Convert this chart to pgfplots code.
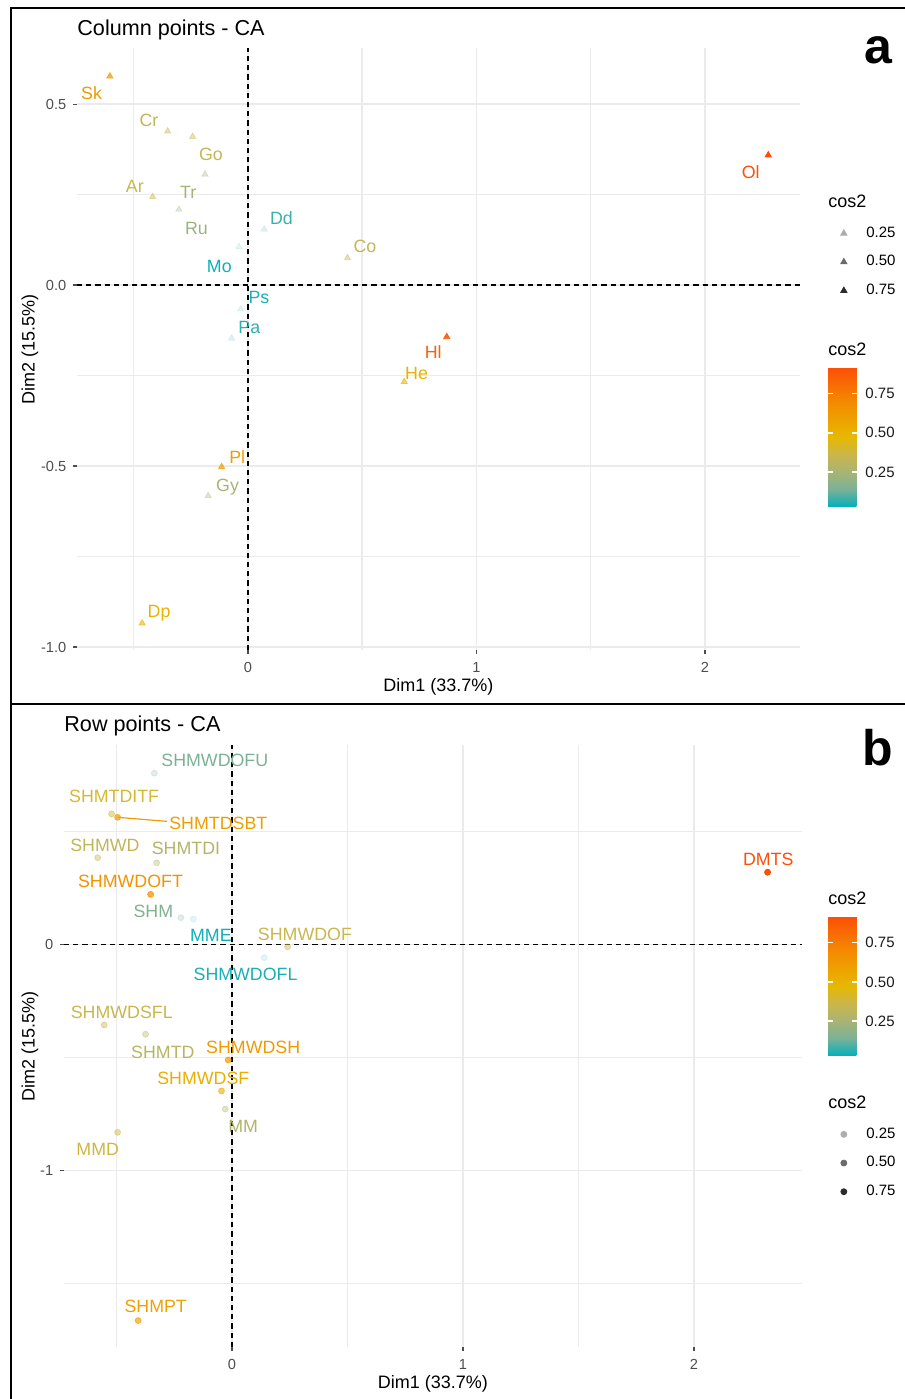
\documentclass[border=0pt]{standalone}
\usepackage{fontspec}
\setmainfont{Liberation Sans}
\usepackage{pgfplots}
\pgfplotsset{compat=1.18}
\usepackage{pgfplotstable}

\definecolor{gridc}{RGB}{235,235,235}
\definecolor{tickc}{RGB}{77,77,77}
\definecolor{segc}{RGB}{238,158,1}

\newcommand{\ptfont}{\fontsize{8.9}{10}\selectfont}
\newcommand{\tkfont}{\fontsize{7.3}{8.5}\selectfont}
\newcommand{\lbfont}{\fontsize{9}{10.5}\selectfont}
\newcommand{\ttlfont}{\fontsize{10.8}{12.5}\selectfont}
\newcommand{\lgfont}{\fontsize{7.5}{9}\selectfont}

% column points: position, cos2, label position
\pgfplotstableread{
name x y c lx ly
Sk -0.604 0.577 0.62 -0.684 0.530
Cr -0.351 0.425 0.33 -0.433 0.456
Go -0.242 0.410 0.34 -0.162 0.361
Tr -0.188 0.306 0.24 -0.261 0.258
Ar -0.417 0.244 0.36 -0.495 0.274
Ru -0.302 0.209 0.22 -0.225 0.158
Mo -0.039 0.106 0.04 -0.125 0.053
Dd 0.071 0.154 0.08 0.147 0.186
Co 0.436 0.075 0.34 0.512 0.108
Ps -0.031 -0.066 0.05 0.048 -0.032
Pa -0.071 -0.147 0.07 0.006 -0.115
Hl 0.870 -0.143 0.85 0.811 -0.184
He 0.684 -0.267 0.50 0.738 -0.244
Pl -0.115 -0.502 0.60 -0.047 -0.474
Gy -0.174 -0.582 0.25 -0.089 -0.552
Dp -0.463 -0.934 0.50 -0.389 -0.900
Ol 2.277 0.359 0.92 2.200 0.311
}\colpts

% row points
\pgfplotstableread{
name x y c lx ly
SHMWDOFU -0.336 0.757 0.14 -0.074 0.816
SHMTDITF -0.521 0.577 0.40 -0.510 0.656
SHMTDSBT -0.495 0.562 0.60 -0.059 0.538
SHMWD -0.581 0.383 0.33 -0.550 0.439
SHMTDI -0.326 0.361 0.28 -0.199 0.425
SHMWDOFT -0.352 0.221 0.66 -0.439 0.280
SHM -0.221 0.118 0.15 -0.340 0.149
MME -0.167 0.112 0.04 -0.091 0.041
SHMWDOF 0.241 -0.011 0.36 0.316 0.046
SHMWDOFL 0.140 -0.059 0.05 0.059 -0.133
SHMWDSFL -0.553 -0.357 0.36 -0.477 -0.301
SHMTD -0.374 -0.398 0.30 -0.299 -0.477
SHMWDSH -0.016 -0.512 0.62 0.092 -0.456
SHMWDSF -0.045 -0.649 0.52 -0.124 -0.590
MM -0.029 -0.729 0.28 0.049 -0.803
MMD -0.495 -0.832 0.38 -0.581 -0.906
SHMPT -0.406 -1.665 0.58 -0.330 -1.599
DMTS 2.319 0.319 0.92 2.322 0.376
}\rowpts

\pgfplotsset{
  colormap={cagrad}{rgb255(0)=(0,175,187) rgb255(1)=(122,177,152) rgb255(2)=(168,180,116)
    rgb255(3)=(202,182,76) rgb255(4)=(231,184,0) rgb255(6)=(244,138,1) rgb255(8)=(252,78,7)},
  capanel/.style={
    scale only axis, anchor=south west,
    colormap name=cagrad,
    point meta min=0.027, point meta max=0.92,
    axis line style={draw=none},
    tick align=outside,
    xtick pos=left, ytick pos=left,
    major tick length=2pt, minor tick length=0pt,
    major tick style={tickc, line width=0.6pt},
    grid=both,
    major grid style={gridc, line width=0.7pt},
    minor grid style={gridc, line width=0.7pt},
    ticklabel style={font=\tkfont, text=tickc},
    xticklabel style={anchor=north, inner sep=0pt, yshift=-3.9pt},
    yticklabel style={anchor=east, inner sep=0pt, xshift=-3.2pt},
    every axis x label/.style={at={(axis description cs:0.5,0)}, anchor=center, yshift=-18.5pt, font=\lbfont},
    title style={at={(axis description cs:0,1)}, anchor=base west, inner sep=0pt, font=\ttlfont},
    clip=false,
    legend style={draw=none, fill=none, font=\lgfont, anchor=north west, inner sep=0pt, row sep=3.6pt},
    legend cell align=left,
    colorbar,
  },
  cabar/.style={
    at={(parent axis.north east)}, anchor=north west,
    width=14.5pt, height=70pt, scale only axis,
    axis line style={draw=none},
    ytick={0.25,0.5,0.75}, yticklabels={0.25,0.50,0.75},
    ytick pos=both, yticklabel pos=right,
    tick align=inside, major tick length=2.5pt,
    major tick style={white, line width=0.7pt},
    yticklabel style={font=\lgfont, text=black!90, anchor=west, inner sep=0pt, xshift=4pt},
    axis on top,
  },
  calegend/.style={legend image code/.code={\path (-2pt,0pt) (9pt,0pt); \draw[##1] plot coordinates {(0pt,0pt)};}},
  ptmarks/.style={scatter, only marks, point meta=explicit, forget plot,
    visualization depends on={0.1+0.9*(\thisrow{c}-0.027)/0.893 \as \alp},
    scatter/use mapped color={draw=mapped color, fill=mapped color, opacity=\alp}},
  ptlabels/.style={only marks, mark=none, point meta=explicit symbolic, forget plot,
    visualization depends on={(\thisrow{c}-0.027)/0.893*1000 \as \cv},
    nodes near coords,
    every node near coord/.append style={anchor=center, font=\ptfont,
      /pgfplots/color of colormap={\cv},
      inner sep=0pt, text height=6.4pt, text depth=0pt}},
  zeroline/.style={black, line width=0.7pt, dash pattern=on 2.6pt off 2pt, forget plot},
}

\begin{document}
\begin{tikzpicture}
\path[use as bounding box] (0pt,0pt) rectangle (452.5pt,699.5pt);
\draw[line width=1.2pt] (5.5pt,0pt) -- (5.5pt,695.5pt) -- (452.5pt,695.5pt);
\draw[line width=1.2pt] (5.5pt,347.5pt) -- (452.5pt,347.5pt);

%% ===== panel a: column points =====
\begin{axis}[capanel, calegend,
  at={(38.5pt,374.5pt)}, width=361.5pt, height=301pt,
  xmin=-0.748, xmax=2.416, ymin=-1.008, ymax=0.655,
  xtick={0,1,2}, xticklabels={0,1,2}, minor xtick={-0.5,0.5,1.5},
  ytick={-1,-0.5,0,0.5}, yticklabels={-1.0,-0.5,0.0,0.5}, minor ytick={-0.75,-0.25,0.25},
  title={Column points - CA},
  xlabel={Dim1 (33.7\%)}, ylabel={Dim2 (15.5\%)},
  every axis y label/.style={at={(axis description cs:-0.065,0.5)}, rotate=90, anchor=center, font=\lbfont},
  colorbar shift/.style={xshift=14pt, yshift=-159.5pt},
  colorbar style={cabar},
  legend style={at={(axis description cs:1.054,0.7106)}},
]
\addplot[ptmarks, mark=triangle*, mark size=1.8pt] table[x=x, y=y, meta=c] {\colpts};
\addplot[ptlabels] table[x=lx, y=ly, meta=name] {\colpts};
\addplot[zeroline] coordinates {(-0.748,0) (2.416,0)};
\addplot[zeroline] coordinates {(0,-1.008) (0,0.655)};
\addlegendimage{only marks, mark=triangle*, mark size=1.8pt, black!32}
\addlegendentry{0.25}
\addlegendimage{only marks, mark=triangle*, mark size=1.8pt, black!58}
\addlegendentry{0.50}
\addlegendimage{only marks, mark=triangle*, mark size=1.8pt, black!83}
\addlegendentry{0.75}
\end{axis}
\node[anchor=base west, font=\lbfont, inner sep=0pt] at (414pt,595.5pt) {cos2};
\node[anchor=base west, font=\lbfont, inner sep=0pt] at (414pt,521.5pt) {cos2};
\node[font=\fontsize{25}{28}\selectfont\bfseries] at (439pt,674.5pt) {a};

%% ===== panel b: row points =====
\begin{axis}[capanel, calegend,
  at={(32pt,26pt)}, width=369pt, height=301pt,
  xmin=-0.727, xmax=2.468, ymin=-1.782, ymax=0.882,
  xtick={0,1,2}, xticklabels={0,1,2}, minor xtick={-0.5,0.5,1.5},
  ytick={-1,0}, yticklabels={-1,0}, minor ytick={-1.5,-0.5,0.5},
  title={Row points - CA}, title style={yshift=0.5pt},
  xlabel={Dim1 (33.7\%)}, ylabel={Dim2 (15.5\%)},
  every axis y label/.style={at={(axis description cs:-0.046,0.5)}, rotate=90, anchor=center, font=\lbfont},
  colorbar shift/.style={xshift=13pt, yshift=-85.5pt},
  colorbar style={cabar},
  legend style={at={(axis description cs:1.0502,0.3717)}},
]
\addplot[ptmarks, mark=*, mark size=1.5pt] table[x=x, y=y, meta=c] {\rowpts};
\addplot[segc, line width=0.6pt, forget plot] coordinates {(-0.495,0.562) (-0.281,0.544)};
\addplot[ptlabels] table[x=lx, y=ly, meta=name] {\rowpts};
\addplot[zeroline] coordinates {(-0.727,0) (2.468,0)};
\addplot[zeroline] coordinates {(0,-1.782) (0,0.882)};
\addlegendimage{only marks, mark=*, mark size=1.5pt, black!32}
\addlegendentry{0.25}
\addlegendimage{only marks, mark=*, mark size=1.5pt, black!58}
\addlegendentry{0.50}
\addlegendimage{only marks, mark=*, mark size=1.5pt, black!83}
\addlegendentry{0.75}
\end{axis}
\node[anchor=base west, font=\lbfont, inner sep=0pt] at (414pt,247pt) {cos2};
\node[anchor=base west, font=\lbfont, inner sep=0pt] at (414pt,145pt) {cos2};
\node[font=\fontsize{25}{28}\selectfont\bfseries] at (439pt,325.5pt) {b};
\end{tikzpicture}
\end{document}
